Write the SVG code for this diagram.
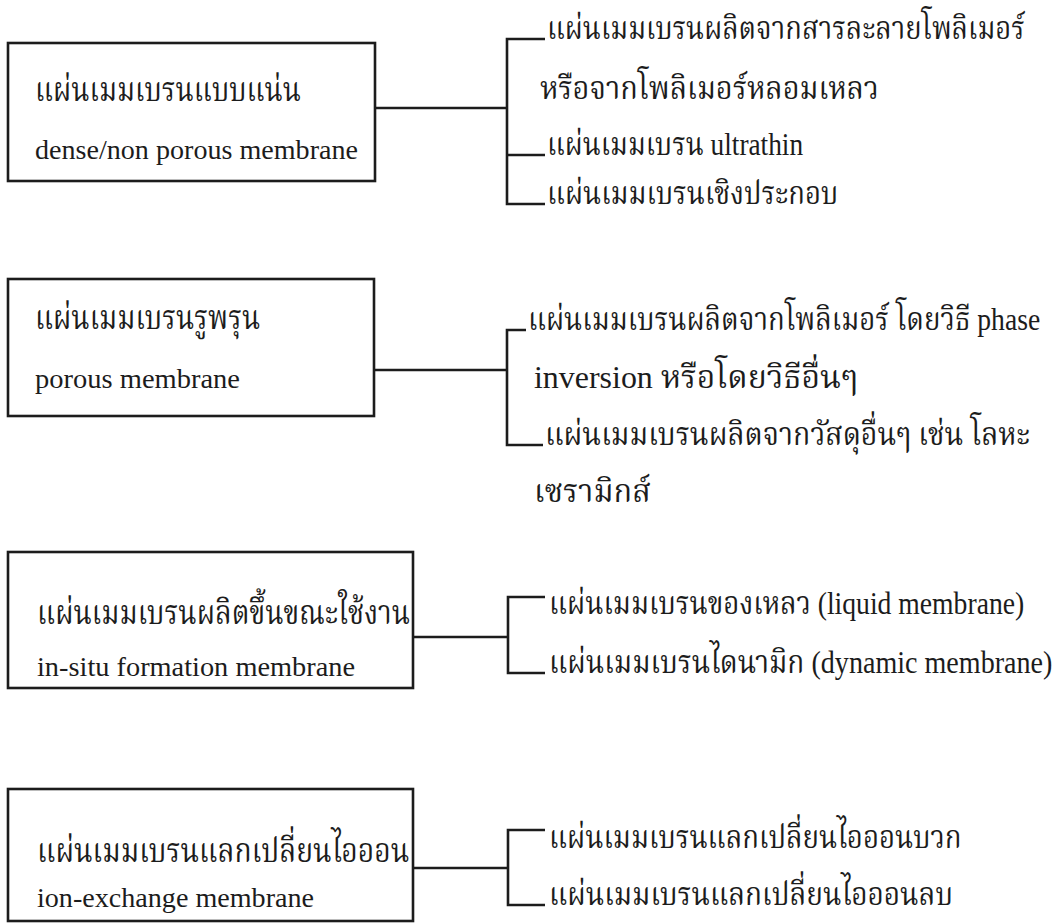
<svg xmlns="http://www.w3.org/2000/svg" width="1058" height="923" viewBox="0 0 1058 923">
<style>
.box{fill:none;stroke:#1c1c1c;stroke-width:2.6}
.ln{fill:none;stroke:#1c1c1c;stroke-width:2.6}
.th{font-family:"Liberation Serif","Norasi","Kinnari","Laksaman","Noto Serif Thai","Noto Sans Thai Looped","Noto Sans Thai",serif;fill:#1c1c1c}
.thb{font-size:34px}
.thr{font-size:32px}
.en{font-family:"Liberation Serif",serif;font-size:27px;fill:#1c1c1c}
</style>
<rect width="1058" height="923" fill="#ffffff"/>
<g id="connectors">
<path class="ln" d="M374,108 H507 M545,39 H507 V204 H545 M507,155 H545"/>
<path class="ln" d="M374,370 H507 M526,330 H507 V445 H543"/>
<path class="ln" d="M413,637 H508 M545,597 H508 V673 H545"/>
<path class="ln" d="M413,868 H508 M545,830 H508 V905 H545"/>
</g>
<g id="n1">
<rect class="box" x="8" y="43" width="367" height="138"/>
<text class="th thb" transform="translate(35,101) scale(0.85,1)" textLength="313" lengthAdjust="spacingAndGlyphs">แผ่นเมมเบรนแบบแน่น</text>
<text class="en" x="35" y="159" textLength="323" lengthAdjust="spacingAndGlyphs">dense/non porous membrane</text>
</g>
<g id="n1-items">
<text class="th thr" transform="translate(547,39) scale(0.88,1)" textLength="543" lengthAdjust="spacingAndGlyphs">แผ่นเมมเบรนผลิตจากสารละลายโพลิเมอร์</text>
<text class="th thr" transform="translate(540,99) scale(0.88,1)" textLength="385" lengthAdjust="spacingAndGlyphs">หรือจากโพลิเมอร์หลอมเหลว</text>
<text class="th thr" transform="translate(547,155) scale(0.88,1)" textLength="291" lengthAdjust="spacingAndGlyphs">แผ่นเมมเบรน ultrathin</text>
<text class="th thr" transform="translate(547,204) scale(0.88,1)" textLength="331" lengthAdjust="spacingAndGlyphs">แผ่นเมมเบรนเชิงประกอบ</text>
</g>
<g id="n2">
<rect class="box" x="8" y="279" width="366" height="137"/>
<text class="th thb" transform="translate(35,329) scale(0.85,1)" textLength="265" lengthAdjust="spacingAndGlyphs">แผ่นเมมเบรนรูพรุน</text>
<text class="en" x="35" y="388" textLength="205" lengthAdjust="spacingAndGlyphs">porous membrane</text>
</g>
<g id="n2-items">
<text class="th thr" transform="translate(528,330) scale(0.88,1)" textLength="582" lengthAdjust="spacingAndGlyphs">แผ่นเมมเบรนผลิตจากโพลิเมอร์ โดยวิธี phase</text>
<text class="th thr" transform="translate(534,388) scale(0.88,1)" textLength="368" lengthAdjust="spacingAndGlyphs">inversion หรือโดยวิธีอื่นๆ</text>
<text class="th thr" transform="translate(545,445) scale(0.88,1)" textLength="551" lengthAdjust="spacingAndGlyphs">แผ่นเมมเบรนผลิตจากวัสดุอื่นๆ เช่น โลหะ</text>
<text class="th thr" transform="translate(534,502) scale(0.88,1)" textLength="133" lengthAdjust="spacingAndGlyphs">เซรามิกส์</text>
</g>
<g id="n3">
<rect class="box" x="8" y="552" width="405" height="136"/>
<text class="th thb" transform="translate(37,624) scale(0.85,1)" textLength="439" lengthAdjust="spacingAndGlyphs">แผ่นเมมเบรนผลิตขึ้นขณะใช้งาน</text>
<text class="en" x="37" y="676" textLength="318" lengthAdjust="spacingAndGlyphs">in-situ formation membrane</text>
</g>
<g id="n3-items">
<text class="th thr" transform="translate(549,614) scale(0.88,1)" textLength="540" lengthAdjust="spacingAndGlyphs">แผ่นเมมเบรนของเหลว (liquid membrane)</text>
<text class="th thr" transform="translate(549,673) scale(0.88,1)" textLength="572" lengthAdjust="spacingAndGlyphs">แผ่นเมมเบรนไดนามิก (dynamic membrane)</text>
</g>
<g id="n4">
<rect class="box" x="8" y="789" width="405" height="132"/>
<text class="th thb" transform="translate(37,862) scale(0.85,1)" textLength="438" lengthAdjust="spacingAndGlyphs">แผ่นเมมเบรนแลกเปลี่ยนไอออน</text>
<text class="en" x="37" y="907" textLength="277" lengthAdjust="spacingAndGlyphs">ion-exchange membrane</text>
</g>
<g id="n4-items">
<text class="th thr" transform="translate(549,848) scale(0.88,1)" textLength="469" lengthAdjust="spacingAndGlyphs">แผ่นเมมเบรนแลกเปลี่ยนไอออนบวก</text>
<text class="th thr" transform="translate(549,905) scale(0.88,1)" textLength="459" lengthAdjust="spacingAndGlyphs">แผ่นเมมเบรนแลกเปลี่ยนไอออนลบ</text>
</g>
</svg>
